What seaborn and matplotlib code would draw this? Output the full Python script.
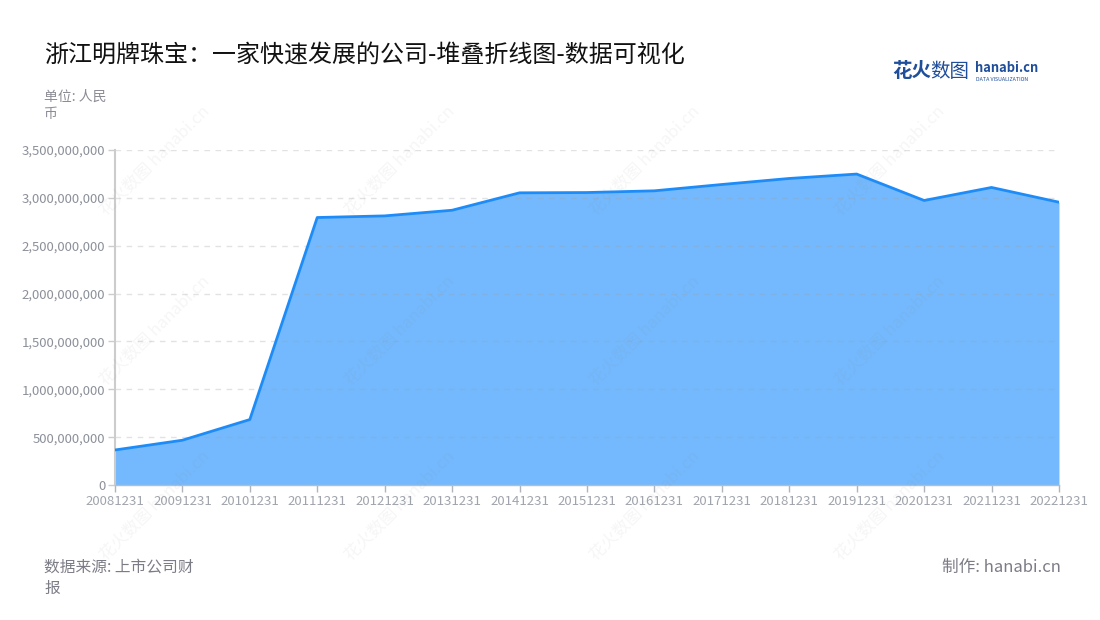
# Stacked area (line) chart of Zhejiang Mingpai Jewellery yearly figures.

import matplotlib
matplotlib.use('Agg')
import matplotlib.pyplot as plt
import numpy as np
import pandas as pd
import seaborn as sns

# data
dates = ['20081231', '20091231', '20101231', '20111231', '20121231',
         '20131231', '20141231', '20151231', '20161231', '20171231',
         '20181231', '20191231', '20201231', '20211231', '20221231']
values = [0.366e9, 0.468e9, 0.684e9, 2.795e9, 2.812e9,
          2.871e9, 3.053e9, 3.056e9, 3.074e9, 3.140e9,
          3.203e9, 3.249e9, 2.973e9, 3.109e9, 2.955e9]
y_ticks = [0, 500e6, 1000e6, 1500e6, 2000e6, 2500e6, 3000e6, 3500e6]

title = '浙江明牌珠宝：一家快速发展的公司-堆叠折线图-数据可视化'
unit_text = '单位: 人民\n币'
source_text = '数据来源: 上市公司财\n报'
credit_text = '制作: hanabi.cn'

sns.set_theme(style='white')
plt.rcParams['font.family'] = ['Noto Sans CJK SC', 'DejaVu Sans']

df = pd.DataFrame({'pos': np.arange(len(dates)), 'value': values})

fig = plt.figure(figsize=(11, 6.2), dpi=100)
ax = fig.add_axes([0.1045, 0.2177, 0.8582, 0.5403])

# area + outline
ax.fill_between(df['pos'], df['value'], color='#74b9fd', lw=0, zorder=1)
sns.lineplot(data=df, x='pos', y='value', ax=ax, color='#1e8cf8', lw=2, zorder=3)

ax.set_xlim(0, len(dates) - 1)
ax.set_ylim(0, 3.5e9)
ax.set_xticks(df['pos'])
ax.set_xticklabels(dates)
ax.set_yticks(y_ticks)
ax.set_yticklabels([f'{int(v):,}' for v in y_ticks])
ax.set_xlabel('')
ax.set_ylabel('')

# dashed gridlines on top of the fill
for v in y_ticks[1:]:
    ax.axhline(v, color='#9aa0a8', alpha=0.3, lw=1, ls=(0, (4, 4)), zorder=2)

for s in ['top', 'right']:
    ax.spines[s].set_visible(False)
ax.spines['left'].set_color('#cccccc')
ax.spines['left'].set_linewidth(1.5)
ax.spines['bottom'].set_color('#b8bcc4')
ax.spines['bottom'].set_linewidth(1)
ax.tick_params(axis='x', colors='#b0b4bc', labelcolor='#a0a4ac', labelsize=9.5,
               length=5, width=1, direction='out', bottom=True, pad=2)
ax.tick_params(axis='y', colors='#cccccc', labelcolor='#8c9099', labelsize=9.5,
               length=5, width=1, direction='out', left=True, pad=2)

# texts
fig.text(0.040, 0.912, title, fontsize=17.3, color='#111111', va='center')
fig.text(0.040, 0.830, unit_text, fontsize=10, color='#8c8c96', va='center',
         linespacing=1.3)
fig.text(0.040, 0.068, source_text, fontsize=11.3, color='#7c7c86', va='center',
         linespacing=1.35)
fig.text(0.964, 0.085, credit_text, fontsize=12, color='#7c7c86', va='center', ha='right')

# logo
fig.text(0.811, 0.884, '花火', fontsize=14, fontweight='bold', color='#1f4e9a', va='center')
fig.text(0.846, 0.884, '数图', fontsize=14, color='#1f4e9a', va='center')
fig.text(0.886, 0.891, 'hanabi.cn', fontsize=9.3, fontweight='bold', color='#1f4e9a',
         va='center')
fig.text(0.887, 0.871, 'DATA VISUALIZATION', fontsize=3.8, color='#1f4e9a', va='center')

# faint watermarks
for wx in [155, 400, 645, 890]:
    for wy in [160, 330, 505]:
        fig.text(wx / 1100, 1 - wy / 620, '花火数图 hanabi.cn', fontsize=12,
                 color='#888888', alpha=0.08, rotation=45, ha='center', va='center')

fig.savefig('out.png', dpi=100)
